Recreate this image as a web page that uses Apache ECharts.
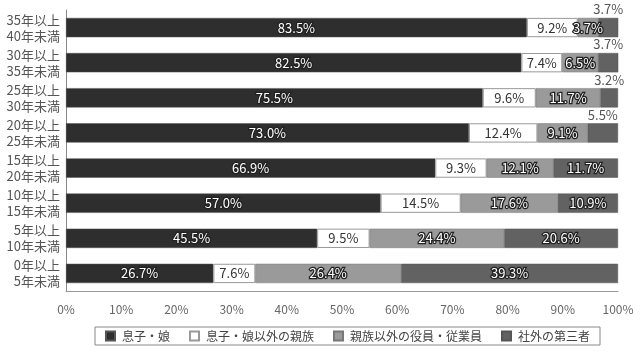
<!DOCTYPE html>
<html><head><meta charset="utf-8">
<script src="https://cdn.jsdelivr.net/npm/echarts@6/dist/echarts.min.js"></script>
<style>html,body{margin:0;padding:0;background:#fff}#c{width:640px;height:356px}</style>
</head><body><div id="c"></div>
<script>
const categories = ['35年以上\n40年未満','30年以上\n35年未満','25年以上\n30年未満','20年以上\n25年未満','15年以上\n20年未満','10年以上\n15年未満','5年以上\n10年未満','0年以上\n5年未満'];
const sonDaughter = [83.5, 82.5, 75.5, 73.0, 66.9, 57.0, 45.5, 26.7];
const otherRelatives = [9.2, 7.4, 9.6, 12.4, 9.3, 14.5, 9.5, 7.6];
const employees = [3.7, 6.5, 11.7, 9.1, 12.1, 17.6, 24.4, 26.4];
const thirdParty = [3.7, 3.7, 3.2, 5.5, 11.7, 10.9, 20.6, 39.3];
const seriesNames = ['息子・娘','息子・娘以外の親族','親族以外の役員・従業員','社外の第三者'];
const xTicks = [0,10,20,30,40,50,60,70,80,90,100];

const font = '"Noto Sans CJK JP","Noto Sans",sans-serif';
const fmt = p => p.value.toFixed(1) + '%';
const outlined = {show:true, position:'inside', formatter:fmt, color:'#fff', textBorderColor:'#222', textBorderWidth:2.5, fontSize:13, fontFamily:font};

const chart = echarts.init(document.getElementById('c'));
chart.setOption({
  animation:false,
  grid:{left:66, right:22, top:10, bottom:65},
  xAxis:{type:'value', min:xTicks[0], max:xTicks[xTicks.length-1], interval:xTicks[1]-xTicks[0],
    axisLabel:{formatter:v=>v+'%', color:'#666', fontSize:12, fontFamily:font, margin:12},
    splitLine:{show:false}, axisLine:{show:true, lineStyle:{color:'#999'}}, axisTick:{show:false}},
  yAxis:{type:'category', data:categories, inverse:true,
    axisLine:{show:true, lineStyle:{color:'#888'}}, axisTick:{show:false},
    axisLabel:{color:'#555', fontSize:13, lineHeight:16, fontFamily:font, margin:6}},
  legend:{left:95, top:327, itemWidth:9, itemHeight:9, itemGap:19, icon:'rect',
    borderColor:'#888', borderWidth:1, padding:[3,10], textStyle:{color:'#444', fontSize:12, fontFamily:font, padding:[0,0,0,2]},
    data:seriesNames},
  series:[
    {name:seriesNames[0], type:'bar', stack:'a', barWidth:'55%', data:sonDaughter,
      itemStyle:{color:'#2e2e2e', borderColor:'#555', borderWidth:0.5}, label:outlined},
    {name:seriesNames[1], type:'bar', stack:'a', data:otherRelatives,
      itemStyle:{color:'#fff', borderColor:'#999', borderWidth:1},
      label:{show:true, position:'inside', formatter:fmt, color:'#333', fontSize:13, fontFamily:font}},
    {name:seriesNames[2], type:'bar', stack:'a', data:employees,
      itemStyle:{color:'#9a9a9a', borderColor:'#777', borderWidth:0.5}, label:outlined},
    {name:seriesNames[3], type:'bar', stack:'a',
      data:thirdParty.map(v => v < 6 ? {value:v, label:{position:'top', distance:2, color:'#555', textBorderWidth:0}} : v),
      itemStyle:{color:'#626262', borderColor:'#555', borderWidth:0.5}, label:outlined}
  ]
});
</script></body></html>
